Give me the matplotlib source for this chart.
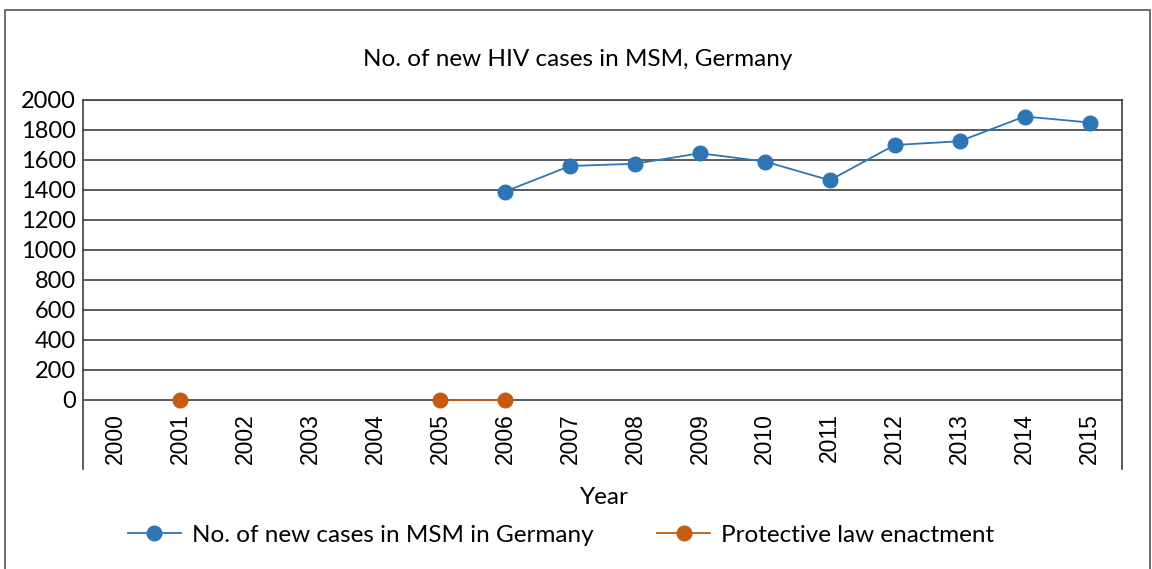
import numpy as np
import matplotlib
matplotlib.use("Agg")
import matplotlib.pyplot as plt
from matplotlib.patches import Rectangle

years = [str(y) for y in range(2000, 2016)]
new_cases = [np.nan] * 6 + [1390, 1560, 1575, 1645, 1590, 1465, 1700, 1725, 1890, 1850]
law_enactment = [np.nan, 0, np.nan, np.nan, np.nan, 0, 0] + [np.nan] * 9
y_ticks = list(range(0, 2001, 200))

title = "No. of new HIV cases in MSM, Germany"
x_label = "Year"
label_cases = "No. of new cases in MSM in Germany"
label_law = "Protective law enactment"

blue = "#2E75B6"
orange = "#C55A11"
grid_col = "#404040"

plt.rcParams["font.family"] = ["Lato", "DejaVu Sans"]

fig = plt.figure(figsize=(11.52, 5.69), dpi=100)
fig.patches.append(Rectangle((5 / 1152, -0.05), 1145 / 1152, 1.05 - 10 / 569,
                             transform=fig.transFigure, fill=False,
                             edgecolor="#555555", linewidth=1.2, zorder=0))

ax = fig.add_axes([83 / 1152, 1 - 469 / 569, 1039 / 1152, 369 / 569])
x = np.arange(len(years))

for v in y_ticks:
    ax.axhline(v, color=grid_col, linewidth=1.2, zorder=1)

ax.plot(x, new_cases, color=blue, linewidth=1.3, marker="o", markersize=10.5,
        label=label_cases, zorder=3)
ax.plot(x, law_enactment, color=orange, linewidth=1.3, marker="o", markersize=10.5,
        label=label_law, zorder=3)

ax.set_xlim(-0.5, len(years) - 0.5)
ax.set_ylim(-460, 2000)
ax.set_yticks(y_ticks)
ax.set_yticklabels([str(v) for v in y_ticks], fontsize=17)
ax.tick_params(axis="y", length=0, pad=5)
ax.set_xticks([])

for side in ["left", "right", "top"]:
    ax.spines[side].set_color(grid_col)
    ax.spines[side].set_linewidth(1.2)
ax.spines["bottom"].set_visible(False)

for i, yr in enumerate(years):
    ax.text(i, -85, yr, rotation=90, ha="center", va="top", fontsize=16.5,
            family=["Liberation Sans", "DejaVu Sans"])

fig.text(578 / 1152, 1 - 60 / 569, title, ha="center", va="center", fontsize=17.5)
fig.text(604 / 1152, 1 - 498 / 569, x_label, ha="center", va="center", fontsize=17.5)

fig.legend(loc="center", bbox_to_anchor=(561 / 1152, 1 - 535 / 569), ncol=2,
           frameon=False, fontsize=17.5, handlelength=2.2, handletextpad=0.45,
           columnspacing=2.6)

fig.savefig("out.png", dpi=100, facecolor="white")
